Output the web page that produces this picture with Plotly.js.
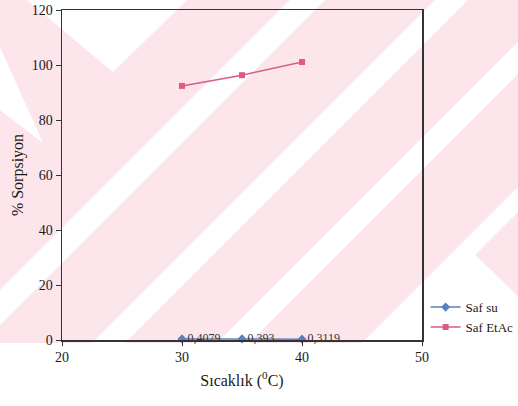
<!DOCTYPE html>
<html>
<head>
<meta charset="utf-8">
<script src="https://cdn.plot.ly/plotly-3.0.1.min.js"></script>
<style>
  html, body { margin: 0; padding: 0; background: #ffffff; }
  #wrap { position: relative; width: 518px; height: 406px; overflow: hidden; }
  #bg { position: absolute; left: 0; top: 0; }
  #chart { position: absolute; left: 0; top: 0; width: 518px; height: 406px; }
</style>
</head>
<body>
<div id="wrap">
  <svg id="bg" width="518" height="406" xmlns="http://www.w3.org/2000/svg">
    <rect x="0" y="0" width="518" height="406" fill="#fce6ec"/>
    <polygon points="27,0 113,72 187,0" fill="#ffffff"/>
    <polygon points="0,47 43,143 0,110" fill="#ffffff"/>
    <polygon points="290,0 325,0 0,325 0,290" fill="#ffffff"/>
    <polygon points="435,0 468,0 0,468 0,435" fill="#ffffff"/>
    <polygon points="560,0 592,0 0,592 0,560" fill="#ffffff"/>
    <polygon points="705,0 730,0 0,730 0,705" fill="#ffffff"/>
    <polygon points="467,247 300,414 640,414" fill="#ffffff"/>
    <rect x="0" y="343" width="518" height="63" fill="#ffffff"/>
  </svg>
  <div id="chart"></div>
</div>
<script>
// Data
const temperatures = [30, 35, 40];
const safSu = [0.4079, 0.393, 0.3119];
const safSuLabels = ["0,4079", "0,393", "0,3119"];
const safEtAc = [92.4, 96.3, 101.1];
const xTicks = [20, 30, 40, 50];
const yTicks = [0, 20, 40, 60, 80, 100, 120];

const serif = "'Times New Roman', 'Liberation Serif', serif";

const traces = [
  {
    x: temperatures, y: safSu, name: "Saf su",
    mode: "lines+markers+text",
    text: safSuLabels, textposition: "middle right",
    textfont: { family: serif, size: 12, color: "#333333" },
    line: { color: "#5b80c0", width: 1.5 },
    marker: { symbol: "diamond", size: 7, color: "#5b80c0" },
    cliponaxis: false
  },
  {
    x: temperatures, y: safEtAc, name: "Saf EtAc",
    mode: "lines+markers",
    line: { color: "#dc5a84", width: 1.5 },
    marker: { symbol: "square", size: 6, color: "#dc5a84" },
    cliponaxis: false
  }
];

const layout = {
  width: 518, height: 406,
  margin: { l: 62, r: 96, t: 10, b: 66, autoexpand: false },
  paper_bgcolor: "rgba(0,0,0,0)",
  plot_bgcolor: "rgba(0,0,0,0)",
  font: { family: serif, size: 14, color: "#1a1a1a" },
  showlegend: true,
  legend: {
    x: 1.01, xanchor: "left", y: 0.145, yanchor: "top",
    bgcolor: "rgba(0,0,0,0)", borderwidth: 0,
    font: { family: serif, size: 13, color: "#1a1a1a" },
    tracegroupgap: 0
  },
  xaxis: {
    range: [20, 50], tickvals: xTicks, ticktext: xTicks.map(String),
    showgrid: false, zeroline: false, automargin: false,
    showline: true, mirror: true, linecolor: "#333333", linewidth: 1.5,
    ticks: "outside", ticklen: 4, tickcolor: "#333333",
    tickfont: { family: serif, size: 14, color: "#1a1a1a" },
    title: { text: "Sıcaklık (<sup>0</sup>C)", font: { family: serif, size: 16, color: "#1a1a1a" }, standoff: 10 }
  },
  yaxis: {
    range: [0, 120], tickvals: yTicks, ticktext: yTicks.map(String),
    showgrid: false, zeroline: false, automargin: false,
    showline: true, mirror: true, linecolor: "#333333", linewidth: 1.5,
    ticks: "outside", ticklen: 5, tickcolor: "#333333",
    tickfont: { family: serif, size: 14, color: "#1a1a1a" },
    title: { text: "% Sorpsiyon", font: { family: serif, size: 16, color: "#1a1a1a" }, standoff: 4 }
  }
};

Plotly.newPlot("chart", traces, layout, { displayModeBar: false, staticPlot: true });
</script>
</body>
</html>
